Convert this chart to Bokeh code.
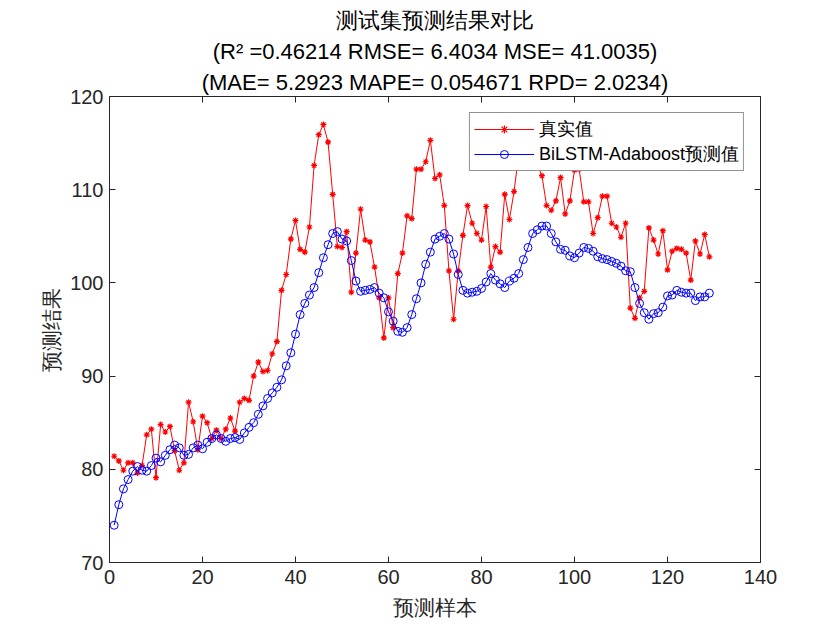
from bokeh.plotting import figure
from bokeh.models import Range1d, FixedTicker, LinearAxis, Title, Legend, LegendItem
from bokeh.embed import file_html
from bokeh.resources import INLINE

# ---- data ----
sample_index = list(range(1, 130))

true_values = [
    81.4, 80.9, 79.9, 80.7, 80.7, 79.6, 80.4, 83.7, 84.3, 79.1,
    84.8, 84.0, 84.6, 82.0, 79.9, 80.7, 87.2, 85.1, 82.1, 85.7,
    85.0, 83.3, 84.2, 83.3, 84.3, 85.5, 84.1, 87.2, 87.6, 87.4,
    90.0, 91.5, 90.5, 90.6, 92.4, 93.7, 99.2, 100.9, 104.7, 106.7,
    103.6, 103.3, 106.0, 112.6, 115.9, 117.0, 115.1, 109.5, 103.9, 103.8,
    105.5, 99.0, 103.2, 107.9, 104.6, 104.4, 101.7, 98.4, 94.1, 98.4,
    95.2, 101.0, 103.2, 107.2, 106.9, 112.2, 112.2, 113.0, 115.3, 111.2,
    111.6, 108.3, 101.3, 96.1, 101.3, 105.1, 108.3, 106.4, 105.3, 104.6,
    108.2, 101.7, 103.9, 103.3, 109.5, 106.8, 109.8, 113.8, 115.5, 114.2,
    113.3, 112.7, 111.5, 108.3, 107.8, 108.8, 111.3, 107.4, 108.8, 112.1,
    112.2, 108.7, 108.7, 105.3, 107.0, 109.3, 109.3, 106.4, 106.0, 104.9,
    106.4, 97.3, 96.2, 98.4, 99.1, 105.9, 104.6, 103.1, 105.6, 101.4,
    103.4, 103.7, 103.6, 103.2, 100.3, 104.5, 103.1, 105.2, 102.8,
]

pred_values = [
    74.0, 76.2, 77.9, 78.9, 79.8, 80.3, 79.9, 79.8, 80.4, 81.2,
    80.8, 81.5, 82.1, 82.6, 82.3, 81.5, 81.6, 82.3, 82.6, 82.2,
    82.9, 83.3, 83.7, 83.3, 83.0, 83.3, 83.4, 83.2, 83.9, 84.5,
    85.0, 85.9, 86.8, 87.6, 88.2, 88.8, 89.6, 91.1, 92.5, 94.5,
    96.6, 97.8, 98.7, 99.5, 101.1, 102.7, 104.1, 105.3, 105.5, 104.7,
    104.5, 102.4, 100.2, 99.1, 99.2, 99.3, 99.5, 98.9, 98.4, 96.9,
    95.9, 94.8, 94.7, 95.2, 96.6, 98.3, 100.0, 102.0, 103.3, 104.7,
    105.0, 105.3, 104.7, 103.1, 100.9, 99.2, 98.9, 99.0, 99.1, 99.4,
    100.1, 101.0, 100.3, 99.9, 99.5, 100.2, 100.5, 101.0, 102.5, 103.8,
    105.3, 105.7, 106.1, 106.1, 105.3, 104.4, 103.6, 103.5, 102.9, 102.7,
    103.2, 103.8, 103.7, 103.4, 102.8, 102.6, 102.5, 102.3, 102.1, 101.8,
    101.3, 101.2, 99.5, 97.8, 96.8, 96.1, 96.7, 96.8, 97.4, 98.6,
    98.7, 99.2, 99.0, 98.9, 98.9, 98.1, 98.5, 98.5, 98.9,
]

x_ticks = [0, 20, 40, 60, 80, 100, 120, 140]
y_ticks = [70, 80, 90, 100, 110, 120]

title_line1 = "测试集预测结果对比"
title_line2 = "(R² =0.46214 RMSE= 6.4034 MSE= 41.0035)"
title_line3 = "(MAE= 5.2923 MAPE= 0.054671 RPD= 2.0234)"
x_label = "预测样本"
y_label = "预测结果"
legend_true = "真实值"
legend_pred = "BiLSTM-Adaboost预测值"

LATIN = "Liberation Sans"
AX = "#262626"

p = figure(width=832, height=622,
           x_range=Range1d(0, 140), y_range=Range1d(70, 120),
           output_backend="svg", toolbar_location=None,
           min_border_left=109, min_border_right=72,
           min_border_top=96, min_border_bottom=60)
p.xgrid.visible = False
p.ygrid.visible = False
p.outline_line_color = None
p.background_fill_color = "white"

def style_axis(ax, ticks, show_labels):
    ax.ticker = FixedTicker(ticks=ticks)
    ax.axis_line_color = AX
    ax.axis_line_width = 1
    ax.major_tick_line_color = AX
    ax.major_tick_in = 6
    ax.major_tick_out = 0
    ax.minor_tick_line_color = None
    if show_labels:
        ax.major_label_text_font = LATIN
        ax.major_label_text_font_size = "20px"
        ax.major_label_text_color = AX
    else:
        # mirrored box axis: ticks only, no tick labels
        ax.major_label_overrides = {t: "" for t in ticks}
        ax.major_label_text_font_size = "1px"
        ax.major_label_standoff = 2

style_axis(p.xaxis[0], x_ticks, True)
style_axis(p.yaxis[0], y_ticks, True)
p.xaxis[0].major_label_standoff = 7
p.yaxis[0].major_label_standoff = 6
p.xaxis[0].axis_label = x_label
p.yaxis[0].axis_label = y_label
for ax in (p.xaxis[0], p.yaxis[0]):
    ax.axis_label_text_font = LATIN
    ax.axis_label_text_font_size = "21px"
    ax.axis_label_text_font_style = "normal"
    ax.axis_label_text_color = AX
p.xaxis[0].axis_label_standoff = 9
p.yaxis[0].axis_label_standoff = 4

top_axis = LinearAxis()
style_axis(top_axis, x_ticks, False)
p.add_layout(top_axis, "above")
right_axis = LinearAxis()
style_axis(right_axis, y_ticks, False)
p.add_layout(right_axis, "right")

r1 = p.line(sample_index, true_values, line_color="red", line_width=1)
r2 = p.scatter(sample_index, true_values, marker="asterisk", size=6,
               line_color="red", line_width=1.2)
r3 = p.line(sample_index, pred_values, line_color="blue", line_width=1)
r4 = p.scatter(sample_index, pred_values, marker="circle", size=8,
               line_color="blue", fill_color=None, line_width=1)

legend = Legend(items=[LegendItem(label=legend_true, renderers=[r1, r2]),
                       LegendItem(label=legend_pred, renderers=[r3, r4])],
                location="top_right")
legend.margin = 16
legend.padding = 4
legend.spacing = 1
legend.glyph_width = 60
legend.glyph_height = 20
legend.label_height = 20
legend.label_standoff = 5
legend.label_text_font = LATIN
legend.label_text_font_size = "18px"
legend.label_text_color = "black"
legend.border_line_color = AX
legend.border_line_width = 1
legend.background_fill_color = "white"
legend.background_fill_alpha = 1
p.add_layout(legend, "center")

# titles: the first added "above" sits nearest to the plot
for txt in (title_line3, title_line2, title_line1):
    p.add_layout(Title(text=txt, align="center", text_font=LATIN,
                       text_font_size="22px", text_font_style="normal",
                       text_color="black", standoff=4, offset=0), "above")

open("out.html", "w").write(file_html(p, INLINE))
